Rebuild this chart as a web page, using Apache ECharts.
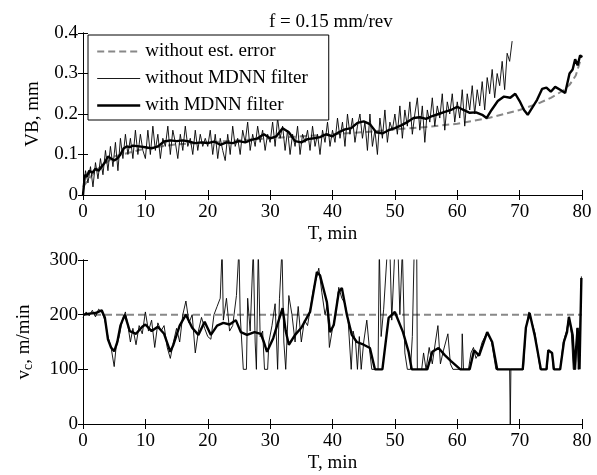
<!DOCTYPE html>
<html>
<head>
<meta charset="utf-8">
<script src="https://cdn.jsdelivr.net/npm/echarts@6/dist/echarts.min.js"></script>
<style>
  html, body { margin: 0; padding: 0; background: #fff; }
  #chart { width: 597px; height: 475px; }
</style>
</head>
<body>
<div id="chart"></div>
<script>
// Top plot: flank wear VB (mm) vs. time T (min)
const VB_REF_T = [0, 2, 5, 10, 15, 20, 25, 30, 35, 40, 45, 50, 55, 60, 65, 70, 73, 75, 77, 78, 79, 80];
const VB_REF   = [0.02, 0.06, 0.095, 0.115, 0.125, 0.13, 0.135, 0.14, 0.145, 0.15, 0.155, 0.162, 0.168, 0.176, 0.19, 0.21, 0.226, 0.24, 0.258, 0.272, 0.295, 0.345];

// raw estimate, sampled every 0.4 min
const VB_RAW_DT = 0.4;
const VB_RAW = [
  0.0, 0.06, 0.03, 0.07, 0.02, 0.08, 0.04, 0.09, 0.05, 0.11, 0.06, 0.12, 0.07, 0.13, 0.06, 0.14, 0.09, 0.15, 0.1, 0.14, 0.09, 0.16, 0.1, 0.15, 0.11,
  0.09, 0.16, 0.1, 0.17, 0.11, 0.15, 0.09, 0.14, 0.12, 0.17, 0.1, 0.16, 0.13, 0.09, 0.15, 0.11, 0.17, 0.12, 0.14, 0.1, 0.16, 0.11, 0.15, 0.12, 0.14,
  0.12, 0.16, 0.1, 0.15, 0.09, 0.14, 0.11, 0.085, 0.15, 0.1, 0.17, 0.12, 0.14, 0.1, 0.16, 0.13, 0.18, 0.11, 0.15, 0.12, 0.17, 0.13, 0.16, 0.11, 0.15,
  0.13, 0.18, 0.12, 0.19, 0.14, 0.17, 0.11, 0.16, 0.1, 0.15, 0.12, 0.17, 0.1, 0.15, 0.13, 0.16, 0.11, 0.17, 0.12, 0.15, 0.1, 0.16, 0.13, 0.18, 0.12,
  0.16, 0.13, 0.19, 0.14, 0.18, 0.12, 0.2, 0.15, 0.19, 0.13, 0.17, 0.2, 0.14, 0.18, 0.11, 0.2, 0.12, 0.16, 0.1, 0.19, 0.14, 0.21, 0.13, 0.18, 0.16,
  0.2, 0.15, 0.22, 0.14, 0.21, 0.17, 0.23, 0.15, 0.2, 0.24, 0.16, 0.22, 0.13, 0.21, 0.18, 0.24, 0.17, 0.22, 0.19, 0.25, 0.16, 0.23, 0.2, 0.25, 0.18,
  0.23, 0.19, 0.26, 0.17, 0.25, 0.21, 0.27, 0.2, 0.26, 0.22, 0.28, 0.21, 0.29, 0.25, 0.31, 0.24, 0.3, 0.27, 0.33, 0.26, 0.35, 0.33, 0.38
];

const VB_FILT_T = [0, 0.3, 0.6, 1, 1.5, 2, 2.5, 3, 3.5, 4, 4.5, 5, 5.5, 6, 6.5, 7, 7.5, 8, 9, 10,
  11, 12, 13, 14, 15, 16, 17, 18, 19, 20, 21, 22, 23, 24, 25, 26, 27, 28, 29, 30,
  31, 32, 33, 34, 35, 36, 37, 38, 39, 40, 41, 42, 43, 44, 45, 46, 47, 48, 49, 50,
  51, 52, 53, 54, 55, 56, 57, 58, 59, 60, 61, 62, 63, 64, 64.7, 65.5, 66.5, 67.5, 68.5, 69.3,
  70, 70.7, 71.3, 72, 72.8, 73.6, 74.3, 75, 75.7, 76.5, 77.3, 78, 78.5, 78.9, 79.3, 79.7, 80];
const VB_FILT = [0.0, 0.05, 0.045, 0.06, 0.055, 0.065, 0.06, 0.07, 0.08, 0.095, 0.09, 0.085, 0.09, 0.1, 0.115, 0.12, 0.118, 0.122, 0.12, 0.118,
  0.115, 0.12, 0.132, 0.135, 0.133, 0.135, 0.132, 0.128, 0.13, 0.128, 0.132, 0.124, 0.13, 0.128, 0.133, 0.13, 0.136, 0.14, 0.15, 0.14,
  0.145, 0.165, 0.155, 0.133, 0.13, 0.138, 0.14, 0.143, 0.15, 0.145, 0.155, 0.162, 0.165, 0.178, 0.182, 0.175, 0.155, 0.152, 0.16, 0.165,
  0.172, 0.18, 0.19, 0.192, 0.188, 0.195, 0.2, 0.205, 0.21, 0.218, 0.21, 0.203, 0.204, 0.198, 0.19, 0.21, 0.232, 0.243, 0.24, 0.25,
  0.232, 0.21, 0.198, 0.215, 0.235, 0.262, 0.265, 0.255, 0.267, 0.26, 0.252, 0.3, 0.31, 0.335, 0.32, 0.345, 0.34];

// Bottom plot: cutting speed vc (m/min) vs. time T (min)
const VC_REF_T = [0, 80];
const VC_REF   = [200, 200];

const VC_RAW_T = [0, 0.5, 1, 1.5, 2, 2.5, 3, 3.5, 4, 4.5, 5, 5.3, 5.8, 6.3, 6.8, 7.2, 7.6, 8, 8.5, 9, 9.5, 10, 10.5, 11, 11.5, 12, 12.5, 13, 13.5, 14, 14.5, 15, 15.5, 16, 16.5, 17, 17.5, 18, 18.5, 19, 19.5, 20, 20.5, 21, 21.5, 22,
  22.3, 22.5, 23, 23.5, 24, 24.6, 25, 25.2, 25.7, 26.2, 26.4, 26.8, 27.3, 27.6, 27.8, 28.1, 28.4, 28.8, 29.1, 29.6, 29.8, 30.3, 30.8, 31.2, 31.5, 31.9, 32.2, 32.5, 33, 33.5, 34, 34.5, 35, 35.5, 36, 36.5, 37, 37.5, 37.8, 38.3, 38.8, 39.2, 39.5, 40,
  40.5, 41, 41.5, 42, 42.5, 43, 43.3, 43.7, 44, 44.3, 44.6, 45, 45.5, 45.9, 46.3, 47.3, 47.5, 47.8, 48.2, 48.8, 49.2, 49.5, 50, 50.5, 50.8, 51.2, 51.6, 52, 52.5, 52.8, 53.1, 53.5, 53.6, 54.3, 54.6, 55, 55.5, 56, 56.5, 56.9, 57.3, 57.8, 58.5, 58.9, 59.3,
  60.7, 60.8, 61, 61.8, 62.2, 62.6, 63, 63.5, 64, 64.8, 65.5, 66.2, 68.4, 68.5, 68.6, 70.6, 71, 71.5, 72, 72.5, 72.9, 73.3, 74.4, 74.6, 75.2, 75.4, 76.5, 77, 77.5, 77.9, 78.3, 78.6, 79, 79.2, 79.4, 79.7, 79.9, 80];
const VC_RAW = [195, 205, 198, 208, 196, 210, 205, 190, 160, 140, 105, 140, 160, 190, 205, 180, 150, 175, 145, 180, 165, 205, 170, 190, 140, 185, 170, 180, 140, 120, 150, 175, 150, 200, 225, 185, 200, 130, 170, 195, 175, 160, 155, 200, 215, 230,
  320, 190, 230, 170, 180, 235, 320, 200, 100, 100, 230, 170, 320, 150, 100, 320, 160, 170, 100, 100, 150, 180, 220, 100, 230, 320, 150, 100, 235, 200, 150, 215, 150, 190, 180, 215, 250, 270, 285, 240, 200, 220, 140, 175,
  200, 250, 230, 220, 190, 100, 170, 150, 100, 160, 100, 150, 190, 140, 100, 100, 320, 160, 210, 320, 320, 190, 320, 320, 200, 320, 130, 100, 100, 160, 320, 320, 100, 100, 130, 100, 140, 110, 150, 180, 110, 135, 165, 110, 100,
  100, 165, 100, 100, 130, 140, 120, 130, 150, 168, 150, 100, 100, 0, 100, 100, 175, 205, 185, 165, 130, 100, 100, 135, 130, 100, 100, 150, 170, 195, 165, 100, 100, 175, 100, 180, 270, 270];

const VC_FILT_T = [0, 1, 2, 3, 3.5, 4, 4.5, 5, 5.5, 6, 6.7, 7.5, 8.5, 9.5, 10, 11, 12, 13, 14, 14.5, 15.5, 16.5, 17.5, 18.5, 19.5, 20.5, 21.5, 22.5, 23.5, 24.5, 25.3, 26.3, 27.5, 28.5, 29, 29.5, 30.5, 31.5, 32, 32.5, 33, 34, 35,
  36.4, 37.5, 38, 39.1, 39.6, 40.2, 41, 41.5, 42.3, 43.1, 43.9, 45, 46, 46.8, 48, 49, 50, 51.3, 52.2, 52.7, 55.2, 56, 57, 58, 59, 60.5, 62, 62.7, 63.5, 64.8, 65.6, 66.4,
  70.5, 71, 71.6, 72.4, 72.9, 73.4, 74.3, 74.6, 75.2, 75.5, 76.5, 77.1, 77.6, 77.9, 78.5, 78.8, 79.3, 79.6, 79.9, 80];
const VC_FILT = [200, 202, 203, 208, 195, 155, 140, 133, 150, 180, 200, 170, 165, 178, 182, 170, 178, 165, 132, 145, 180, 200, 176, 163, 187, 163, 180, 185, 182, 190, 168, 163, 168, 165, 150, 132, 157, 194, 212, 170, 145, 163, 176,
  205, 278, 272, 223, 168, 181, 241, 249, 200, 163, 150, 145, 139, 100, 100, 194, 205, 168, 132, 100, 100, 132, 139, 126, 115, 100, 100, 135, 125, 168, 150, 100,
  100, 176, 203, 163, 132, 100, 100, 135, 130, 100, 100, 150, 168, 196, 163, 100, 176, 100, 267, 267];

const NAMES = ['without est. error', 'without MDNN filter', 'with MDNN filter'];

const FONT = 'Liberation Serif, Times New Roman, serif';
const FS = 19;

const chart = echarts.init(document.getElementById('chart'), null, { renderer: 'canvas' });

const zip = (xs, ys) => ys.map((v, i) => [xs[i], v]);

const dashed = { color: '#888', width: 2, type: [7, 4] };
const thin   = { color: '#000', width: 0.9 };
const thick  = { color: '#000', width: 2.4 };
const STYLES = [dashed, thin, thick];

function xAxes(grid) {
  return [
    {
      gridIndex: grid, type: 'value', min: 0, max: 80, interval: 10,
      name: 'T, min', nameLocation: 'middle', nameGap: 30,
      nameTextStyle: { color: '#000', fontFamily: FONT, fontSize: FS },
      axisLine: { lineStyle: { color: '#000', width: 1 } },
      axisTick: { inside: true, length: 5, lineStyle: { color: '#000' } },
      axisLabel: { color: '#000', fontFamily: FONT, fontSize: FS, margin: 8 },
      splitLine: { show: false }
    },
    {
      gridIndex: grid, type: 'value', min: 0, max: 80, interval: 10, position: 'top',
      axisLine: { lineStyle: { color: '#000', width: 1 } },
      axisTick: { inside: true, length: 5, lineStyle: { color: '#000' } },
      axisLabel: { show: false }, splitLine: { show: false }
    }
  ];
}

function yAxes(grid, max, interval, name, gap) {
  return [
    {
      gridIndex: grid, type: 'value', min: 0, max: max, interval: interval,
      name: name, nameLocation: 'middle', nameGap: gap, nameRotate: 90,
      nameTextStyle: {
        color: '#000', fontFamily: FONT, fontSize: FS,
        rich: { sub: { fontFamily: FONT, fontSize: 14, color: '#000', verticalAlign: 'bottom', padding: [8, 0, 0, 0] } }
      },
      axisLine: { lineStyle: { color: '#000', width: 1 } },
      axisTick: { inside: true, length: 5, lineStyle: { color: '#000' } },
      axisLabel: { color: '#000', fontFamily: FONT, fontSize: FS, margin: 5 },
      splitLine: { show: false }
    },
    {
      gridIndex: grid, type: 'value', min: 0, max: max, interval: interval, position: 'right',
      axisLine: { lineStyle: { color: '#000', width: 1 } },
      axisTick: { inside: true, length: 5, lineStyle: { color: '#000' } },
      axisLabel: { show: false }, splitLine: { show: false }
    }
  ];
}

function line(name, x, y, data, style) {
  return {
    name: name, type: 'line', xAxisIndex: x, yAxisIndex: y,
    data: data, symbol: 'none', showSymbol: false, clip: true,
    lineStyle: style, itemStyle: { color: style.color }, emphasis: { disabled: true }
  };
}

chart.setOption({
  animation: false,
  backgroundColor: '#fff',
  title: {
    text: 'f = 0.15 mm/rev', left: 264, top: 8,
    textStyle: { color: '#000', fontFamily: FONT, fontSize: FS, fontWeight: 'normal' }
  },
  legend: {
    data: NAMES.map((n, i) => ({
      name: n,
      itemStyle: { opacity: 0 },
      lineStyle: { color: STYLES[i].color, width: STYLES[i].width, type: STYLES[i].type || 'solid' }
    })),
    orient: 'vertical', left: 88, top: 35,
    itemWidth: 43, itemHeight: 14, itemGap: 8, padding: [7, 21, 5, 8],
    backgroundColor: '#fff', borderColor: '#000', borderWidth: 1,
    textStyle: { color: '#000', fontFamily: FONT, fontSize: FS },
    selectedMode: false
  },
  grid: [
    { left: 83, right: 15, top: 33, height: 162 },
    { left: 83, right: 15, top: 260, height: 164 }
  ],
  xAxis: [...xAxes(0), ...xAxes(1)],
  yAxis: [
    ...yAxes(0, 0.4, 0.1, 'VB, mm', 40),
    ...yAxes(1, 300, 100, 'v{sub|c}, m/min', 48)
  ],
  series: [
    line(NAMES[0], 0, 0, zip(VB_REF_T, VB_REF), dashed),
    line(NAMES[1], 0, 0, VB_RAW.map((v, i) => [i * VB_RAW_DT, v]), thin),
    line(NAMES[2], 0, 0, zip(VB_FILT_T, VB_FILT), thick),
    line(NAMES[0], 2, 2, zip(VC_REF_T, VC_REF), dashed),
    line(NAMES[1], 2, 2, zip(VC_RAW_T, VC_RAW), thin),
    line(NAMES[2], 2, 2, zip(VC_FILT_T, VC_FILT), thick)
  ]
});
</script>
</body>
</html>
